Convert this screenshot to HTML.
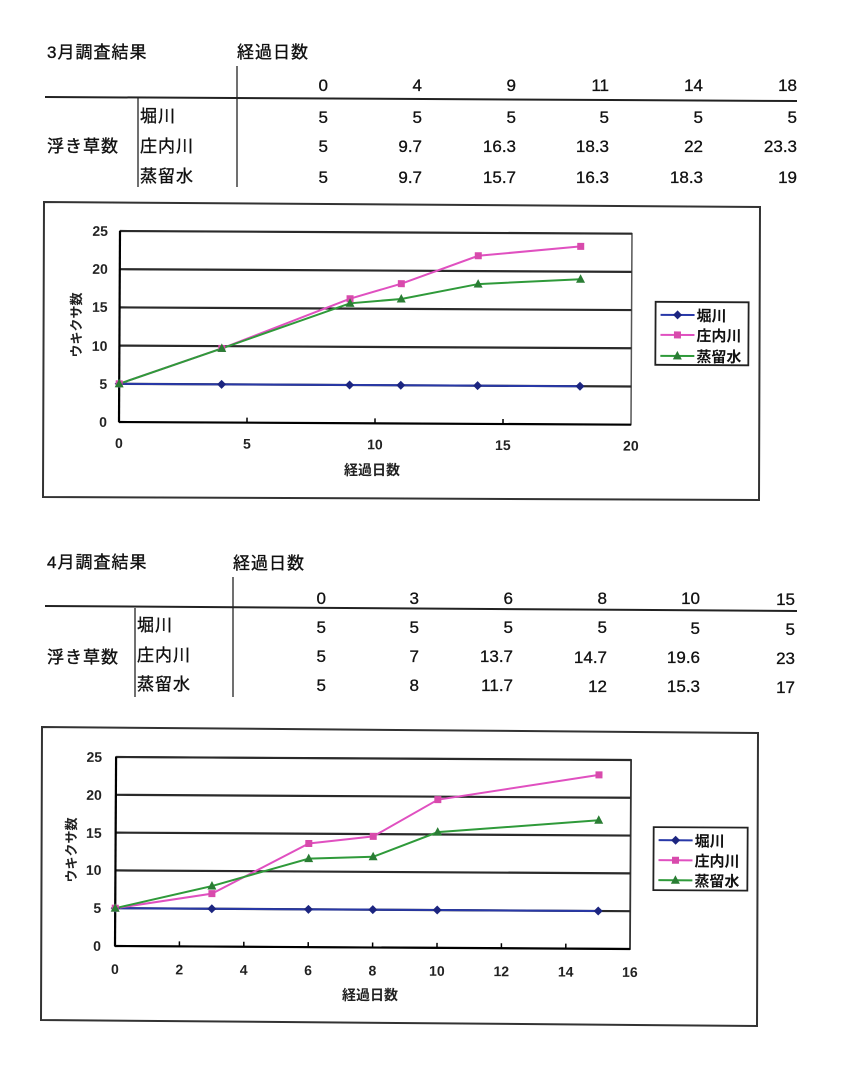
<!DOCTYPE html>
<html><head><meta charset="utf-8"><style>
html,body{margin:0;padding:0;background:#fff;}
svg{display:block;}
text{font-family:"Liberation Sans","Noto Sans CJK JP",sans-serif;fill:#111;}
.jp{font-size:17px;letter-spacing:1px;stroke:#111;stroke-width:0.35;}
.num{font-family:"Liberation Sans Narrow","Liberation Sans",sans-serif;font-size:17px;text-anchor:end;stroke:#111;stroke-width:0.3;}
.tk{font-size:14px;font-weight:bold;fill:#222;}
.lg{font-size:15px;font-weight:bold;fill:#111;}
</style></head><body>
<svg width="842" height="1072" viewBox="0 0 842 1072" xmlns="http://www.w3.org/2000/svg">
<rect width="842" height="1072" fill="#fff"/>

<!-- ===== Table 1 ===== -->
<text class="jp" x="47" y="58">3月調査結果</text>
<text class="jp" x="237" y="58">経過日数</text>
<line x1="237" y1="66" x2="237" y2="187" stroke="#222" stroke-width="1.3"/>
<line x1="138" y1="98" x2="138" y2="187" stroke="#222" stroke-width="1.3"/>
<line x1="45" y1="97" x2="797" y2="101" stroke="#222" stroke-width="2"/>
<text class="num" x="328" y="91">0</text><text class="num" x="422" y="91">4</text><text class="num" x="516" y="91">9</text><text class="num" x="609" y="91">11</text><text class="num" x="703" y="91">14</text><text class="num" x="797" y="91">18</text>
<text class="num" x="328" y="123">5</text><text class="num" x="422" y="123">5</text><text class="num" x="516" y="123">5</text><text class="num" x="609" y="123">5</text><text class="num" x="703" y="123">5</text><text class="num" x="797" y="123">5</text>
<text class="num" x="328" y="152">5</text><text class="num" x="422" y="152">9.7</text><text class="num" x="516" y="152">16.3</text><text class="num" x="609" y="152">18.3</text><text class="num" x="703" y="152">22</text><text class="num" x="797" y="152">23.3</text>
<text class="num" x="328" y="183">5</text><text class="num" x="422" y="183">9.7</text><text class="num" x="516" y="183">15.7</text><text class="num" x="609" y="183">16.3</text><text class="num" x="703" y="183">18.3</text><text class="num" x="797" y="183">19</text>
<text class="jp" x="140" y="122">堀川</text>
<text class="jp" x="140" y="152">庄内川</text>
<text class="jp" x="140" y="182">蒸留水</text>
<text class="jp" x="47" y="152">浮き草数</text>

<!-- ===== Chart 1 ===== -->
<polygon points="44,202 760,207 759,500 43,497" fill="none" stroke="#333" stroke-width="2"/>
<text class="tk" transform="translate(81,325) rotate(-90)" text-anchor="middle" style="font-size:13px">ウキクサ数</text>
<text class="tk" x="372" y="475" text-anchor="middle" style="font-size:14px">経過日数</text>
<g transform="rotate(0.3 119 422) translate(119 422)">
  <rect x="0" y="-191" width="512" height="191" fill="none" stroke="#555" stroke-width="1.5"/>
  <g stroke="#2a2a2a" stroke-width="2.2">
    <line x1="0" y1="-38.2" x2="512" y2="-38.2"/>
    <line x1="0" y1="-76.4" x2="512" y2="-76.4"/>
    <line x1="0" y1="-114.6" x2="512" y2="-114.6"/>
    <line x1="0" y1="-152.8" x2="512" y2="-152.8"/>
    <line x1="0" y1="-191" x2="512" y2="-191"/>
  </g>
  <line x1="0" y1="-191" x2="0" y2="0" stroke="#000" stroke-width="2.2"/>
  <line x1="0" y1="0" x2="512" y2="0" stroke="#000" stroke-width="2.2"/>
  <g stroke="#000" stroke-width="1.5">
    <line x1="128" y1="0" x2="128" y2="-5"/><line x1="256" y1="0" x2="256" y2="-5"/><line x1="384" y1="0" x2="384" y2="-5"/>
  </g>
  <text class="tk" x="-12" y="5" text-anchor="end">0</text>
  <text class="tk" x="-12" y="-33" text-anchor="end">5</text>
  <text class="tk" x="-12" y="-71" text-anchor="end">10</text>
  <text class="tk" x="-12" y="-110" text-anchor="end">15</text>
  <text class="tk" x="-12" y="-148" text-anchor="end">20</text>
  <text class="tk" x="-12" y="-186" text-anchor="end">25</text>
  <text class="tk" x="0" y="26" text-anchor="middle">0</text>
  <text class="tk" x="128" y="26" text-anchor="middle">5</text>
  <text class="tk" x="256" y="26" text-anchor="middle">10</text>
  <text class="tk" x="384" y="26" text-anchor="middle">15</text>
  <text class="tk" x="512" y="26" text-anchor="middle">20</text>
  <polyline points="0,-38.2 102.4,-38.2 230.4,-38.2 281.6,-38.2 358.4,-38.2 460.8,-38.2" fill="none" stroke="#2838a8" stroke-width="2"/>
  <polyline points="0,-38.2 102.4,-74.1 230.4,-124.5 281.6,-139.8 358.4,-168.1 460.8,-178" fill="none" stroke="#e050c0" stroke-width="2"/>
  <polyline points="0,-38.2 102.4,-74.1 230.4,-119.9 281.6,-124.5 358.4,-139.8 460.8,-145.2" fill="none" stroke="#2f9a3a" stroke-width="2"/>
  <g fill="#1c2580">
    <path d="M0,-42.7 L4.5,-38.2 L0,-33.7 L-4.5,-38.2Z"/><path d="M102.4,-42.7 L106.9,-38.2 L102.4,-33.7 L97.9,-38.2Z"/><path d="M230.4,-42.7 L234.9,-38.2 L230.4,-33.7 L225.9,-38.2Z"/><path d="M281.6,-42.7 L286.1,-38.2 L281.6,-33.7 L277.1,-38.2Z"/><path d="M358.4,-42.7 L362.9,-38.2 L358.4,-33.7 L353.9,-38.2Z"/><path d="M460.8,-42.7 L465.3,-38.2 L460.8,-33.7 L456.3,-38.2Z"/>
  </g>
  <g fill="#d84aac">
    <rect x="-3.5" y="-41.7" width="7" height="7"/><rect x="98.9" y="-77.6" width="7" height="7"/><rect x="226.9" y="-128" width="7" height="7"/><rect x="278.1" y="-143.3" width="7" height="7"/><rect x="354.9" y="-171.6" width="7" height="7"/><rect x="457.3" y="-181.5" width="7" height="7"/>
  </g>
  <g fill="#2a7d34">
    <path d="M0,-43.2 L4.5,-34.7 L-4.5,-34.7Z"/><path d="M102.4,-79.1 L106.9,-70.6 L97.9,-70.6Z"/><path d="M230.4,-124.9 L234.9,-116.4 L225.9,-116.4Z"/><path d="M281.6,-129.5 L286.1,-121 L277.1,-121Z"/><path d="M358.4,-144.8 L362.9,-136.3 L353.9,-136.3Z"/><path d="M460.8,-150.2 L465.3,-141.7 L456.3,-141.7Z"/>
  </g>
  <rect x="536" y="-123" width="93" height="63" fill="#fff" stroke="#222" stroke-width="1.8"/>
  <line x1="541" y1="-110" x2="575" y2="-110" stroke="#2838a8" stroke-width="2"/>
  <path d="M558,-114.5 L562.5,-110 L558,-105.5 L553.5,-110Z" fill="#1c2580"/>
  <text class="lg" x="577" y="-104">堀川</text>
  <line x1="541" y1="-90" x2="575" y2="-90" stroke="#e050c0" stroke-width="2"/>
  <rect x="554.5" y="-93.5" width="7" height="7" fill="#d84aac"/>
  <text class="lg" x="577" y="-84">庄内川</text>
  <line x1="541" y1="-69" x2="575" y2="-69" stroke="#2f9a3a" stroke-width="2"/>
  <path d="M558,-74 L562.5,-65.5 L553.5,-65.5Z" fill="#2a7d34"/>
  <text class="lg" x="577" y="-63">蒸留水</text>
</g>

<!-- ===== Table 2 ===== -->
<text class="jp" x="47" y="568">4月調査結果</text>
<text class="jp" x="233" y="569">経過日数</text>
<line x1="233" y1="577" x2="233" y2="697" stroke="#222" stroke-width="1.3"/>
<line x1="135" y1="608" x2="135" y2="697" stroke="#222" stroke-width="1.3"/>
<line x1="45" y1="606" x2="797" y2="611" stroke="#222" stroke-width="2"/>
<text class="num" x="326" y="604">0</text><text class="num" x="419" y="604">3</text><text class="num" x="513" y="604">6</text><text class="num" x="607" y="604">8</text><text class="num" x="700" y="604">10</text><text class="num" x="795" y="605">15</text>
<text class="num" x="326" y="633">5</text><text class="num" x="419" y="633">5</text><text class="num" x="513" y="633">5</text><text class="num" x="607" y="633">5</text><text class="num" x="700" y="634">5</text><text class="num" x="795" y="635">5</text>
<text class="num" x="326" y="662">5</text><text class="num" x="419" y="662">7</text><text class="num" x="513" y="662">13.7</text><text class="num" x="607" y="663">14.7</text><text class="num" x="700" y="663">19.6</text><text class="num" x="795" y="664">23</text>
<text class="num" x="326" y="691">5</text><text class="num" x="419" y="691">8</text><text class="num" x="513" y="691">11.7</text><text class="num" x="607" y="692">12</text><text class="num" x="700" y="692">15.3</text><text class="num" x="795" y="693">17</text>
<text class="jp" x="137" y="631">堀川</text>
<text class="jp" x="137" y="661">庄内川</text>
<text class="jp" x="137" y="690">蒸留水</text>
<text class="jp" x="47" y="663">浮き草数</text>

<!-- ===== Chart 2 ===== -->
<polygon points="42,727 758,733 757,1026 41,1020" fill="none" stroke="#333" stroke-width="2"/>
<text class="tk" transform="translate(76,850) rotate(-90)" text-anchor="middle" style="font-size:13px">ウキクサ数</text>
<text class="tk" x="370" y="1000" text-anchor="middle" style="font-size:14px">経過日数</text>
<g transform="rotate(0.33 115 946) translate(115 946)">
  <rect x="0" y="-189" width="515" height="189" fill="none" stroke="#333" stroke-width="1.8"/>
  <g stroke="#2a2a2a" stroke-width="2.2">
    <line x1="0" y1="-37.8" x2="515" y2="-37.8"/>
    <line x1="0" y1="-75.6" x2="515" y2="-75.6"/>
    <line x1="0" y1="-113.4" x2="515" y2="-113.4"/>
    <line x1="0" y1="-151.2" x2="515" y2="-151.2"/>
    <line x1="0" y1="-189" x2="515" y2="-189"/>
  </g>
  <line x1="0" y1="-189" x2="0" y2="0" stroke="#000" stroke-width="2.2"/>
  <line x1="0" y1="0" x2="515" y2="0" stroke="#000" stroke-width="2.2"/>
  <g stroke="#000" stroke-width="1.5">
    <line x1="64.4" y1="0" x2="64.4" y2="-5"/><line x1="128.8" y1="0" x2="128.8" y2="-5"/><line x1="193.2" y1="0" x2="193.2" y2="-5"/><line x1="257.6" y1="0" x2="257.6" y2="-5"/><line x1="322" y1="0" x2="322" y2="-5"/><line x1="386.4" y1="0" x2="386.4" y2="-5"/><line x1="450.8" y1="0" x2="450.8" y2="-5"/>
  </g>
  <text class="tk" x="-14" y="5" text-anchor="end">0</text>
  <text class="tk" x="-14" y="-33" text-anchor="end">5</text>
  <text class="tk" x="-14" y="-71" text-anchor="end">10</text>
  <text class="tk" x="-14" y="-108" text-anchor="end">15</text>
  <text class="tk" x="-14" y="-146" text-anchor="end">20</text>
  <text class="tk" x="-14" y="-184" text-anchor="end">25</text>
  <text class="tk" x="0" y="28" text-anchor="middle">0</text>
  <text class="tk" x="64.4" y="28" text-anchor="middle">2</text>
  <text class="tk" x="128.8" y="28" text-anchor="middle">4</text>
  <text class="tk" x="193.2" y="28" text-anchor="middle">6</text>
  <text class="tk" x="257.6" y="28" text-anchor="middle">8</text>
  <text class="tk" x="322" y="28" text-anchor="middle">10</text>
  <text class="tk" x="386.4" y="28" text-anchor="middle">12</text>
  <text class="tk" x="450.8" y="28" text-anchor="middle">14</text>
  <text class="tk" x="515" y="28" text-anchor="middle">16</text>
  <polyline points="0,-37.8 96.6,-37.8 193.2,-37.8 257.6,-37.8 322,-37.8 483,-37.8" fill="none" stroke="#2838a8" stroke-width="2"/>
  <polyline points="0,-37.8 96.6,-52.9 193.2,-103.6 257.6,-111.1 322,-148.2 483,-173.9" fill="none" stroke="#e050c0" stroke-width="2"/>
  <polyline points="0,-37.8 96.6,-60.5 193.2,-88.5 257.6,-90.7 322,-115.7 483,-128.5" fill="none" stroke="#2f9a3a" stroke-width="2"/>
  <g fill="#1c2580">
    <path d="M0,-42.3 L4.5,-37.8 L0,-33.3 L-4.5,-37.8Z"/><path d="M96.6,-42.3 L101.1,-37.8 L96.6,-33.3 L92.1,-37.8Z"/><path d="M193.2,-42.3 L197.7,-37.8 L193.2,-33.3 L188.7,-37.8Z"/><path d="M257.6,-42.3 L262.1,-37.8 L257.6,-33.3 L253.1,-37.8Z"/><path d="M322,-42.3 L326.5,-37.8 L322,-33.3 L317.5,-37.8Z"/><path d="M483,-42.3 L487.5,-37.8 L483,-33.3 L478.5,-37.8Z"/>
  </g>
  <g fill="#d84aac">
    <rect x="-3.5" y="-41.3" width="7" height="7"/><rect x="93.1" y="-56.4" width="7" height="7"/><rect x="189.7" y="-107.1" width="7" height="7"/><rect x="254.1" y="-114.6" width="7" height="7"/><rect x="318.5" y="-151.7" width="7" height="7"/><rect x="479.5" y="-177.4" width="7" height="7"/>
  </g>
  <g fill="#2a7d34">
    <path d="M0,-42.8 L4.5,-34.3 L-4.5,-34.3Z"/><path d="M96.6,-65.5 L101.1,-57 L92.1,-57Z"/><path d="M193.2,-93.5 L197.7,-85 L188.7,-85Z"/><path d="M257.6,-95.7 L262.1,-87.2 L253.1,-87.2Z"/><path d="M322,-120.7 L326.5,-112.2 L317.5,-112.2Z"/><path d="M483,-133.5 L487.5,-125 L478.5,-125Z"/>
  </g>
  <rect x="538" y="-122" width="94" height="63" fill="#fff" stroke="#222" stroke-width="1.8"/>
  <line x1="543" y1="-109" x2="577" y2="-109" stroke="#2838a8" stroke-width="2"/>
  <path d="M560,-113.5 L564.5,-109 L560,-104.5 L555.5,-109Z" fill="#1c2580"/>
  <text class="lg" x="579" y="-103">堀川</text>
  <line x1="543" y1="-89" x2="577" y2="-89" stroke="#e050c0" stroke-width="2"/>
  <rect x="556.5" y="-92.5" width="7" height="7" fill="#d84aac"/>
  <text class="lg" x="579" y="-83">庄内川</text>
  <line x1="543" y1="-69" x2="577" y2="-69" stroke="#2f9a3a" stroke-width="2"/>
  <path d="M560,-74 L564.5,-65.5 L555.5,-65.5Z" fill="#2a7d34"/>
  <text class="lg" x="579" y="-63">蒸留水</text>
</g>
</svg>
</body></html>
